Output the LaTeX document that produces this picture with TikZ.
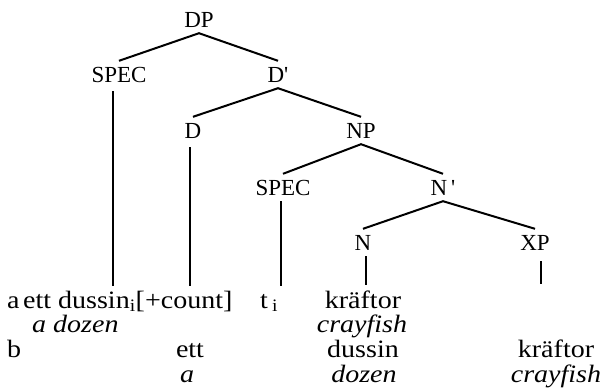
\documentclass[tikz,border=0pt]{standalone}
\usepackage{fontspec}
\setmainfont{Liberation Serif}
\newfontfamily\wordfont{Liberation Serif}[FakeStretch=1.12]
\begin{document}
\begin{tikzpicture}[x=1pt,y=-1pt]
    \tikzset{cat/.style={font=\fontsize{23}{23}\selectfont, inner xsep=0pt, inner ysep=6pt,
                 text height=15pt, text depth=0pt, anchor=base},
             word/.style={font=\wordfont\fontsize{25}{25}\selectfont, inner sep=0pt, anchor=base},
             branch/.style={line width=2pt},
             stem/.style={line width=1.6pt}}
    \useasboundingbox (0,0) rectangle (612,389);

    % tree
    \node[cat] (dp)    at (199,27)  {DP};
    \node[cat] (spec1) at (119,82)  {SPEC};
    \node[cat] (dbar)  at (278,82)  {D\textquotesingle};
    \node[cat] (d)     at (193,138) {D};
    \node[cat] (np)    at (361,138) {NP};
    \node[cat] (spec2) at (283,195) {SPEC};
    \node[cat] (nbar)  at (443,195) {N\,\textquotesingle};
    \node[cat] (n)     at (363,250) {N};
    \node[cat] (xp)    at (535,250) {XP};

    \draw[branch] (spec1.north) -- (dp.south) -- (dbar.north);
    \draw[branch] (d.north) -- (dbar.south) -- (np.north);
    \draw[branch] (spec2.north) -- (np.south) -- (nbar.north);
    \draw[branch] (n.north) -- (nbar.south) -- (xp.north);

    % feet of the stems
    \coordinate (f1) at (113,286);
    \coordinate (f2) at (190,286);
    \coordinate (f3) at (281,286);
    \coordinate (f4) at (366,285);
    \coordinate (f5) at (541,284);
    \draw[stem,line width=1.3pt] (f1 |- spec1.south) ++(0,3) -- (f1);
    \draw[stem,line width=2.3pt] (f2 |- d.south) ++(0,3) -- (f2);
    \draw[stem] (f3 |- spec2.south) -- (f3);
    \draw[stem] (f4 |- n.south) -- (f4);
    \draw[stem] (f5 |- xp.south) ++(0,5) -- (f5);

    % a
    \node[word,anchor=base west] (la)   at (7,308)   {a};
    \node[word,anchor=base west] (wa1)  at (23,308)  {ett dussin\textsubscript{i}[+count]};
    \node[word,anchor=base west] (wa2)  at (260,308) {t\,\textsubscript{i}};
    \node[word] (wa3)  at (363,308) {kräftor};
    \node[word,anchor=base west] (ga1)  at (32,332)  {\itshape a dozen};
    \node[word] (ga3)  at (362,332) {\itshape crayfish};

    % b
    \node[word,anchor=base west] (lb)   at (7,357)   {b};
    \node[word] (wb1)  at (190,357) {ett};
    \node[word] (wb2)  at (363,357) {dussin};
    \node[word] (wb3)  at (556,357) {kräftor};
    \node[word] (gb1)  at (187,382) {\itshape a};
    \node[word] (gb2)  at (364,382) {\itshape dozen};
    \node[word] (gb3)  at (556,382) {\itshape crayfish};
\end{tikzpicture}
\end{document}
